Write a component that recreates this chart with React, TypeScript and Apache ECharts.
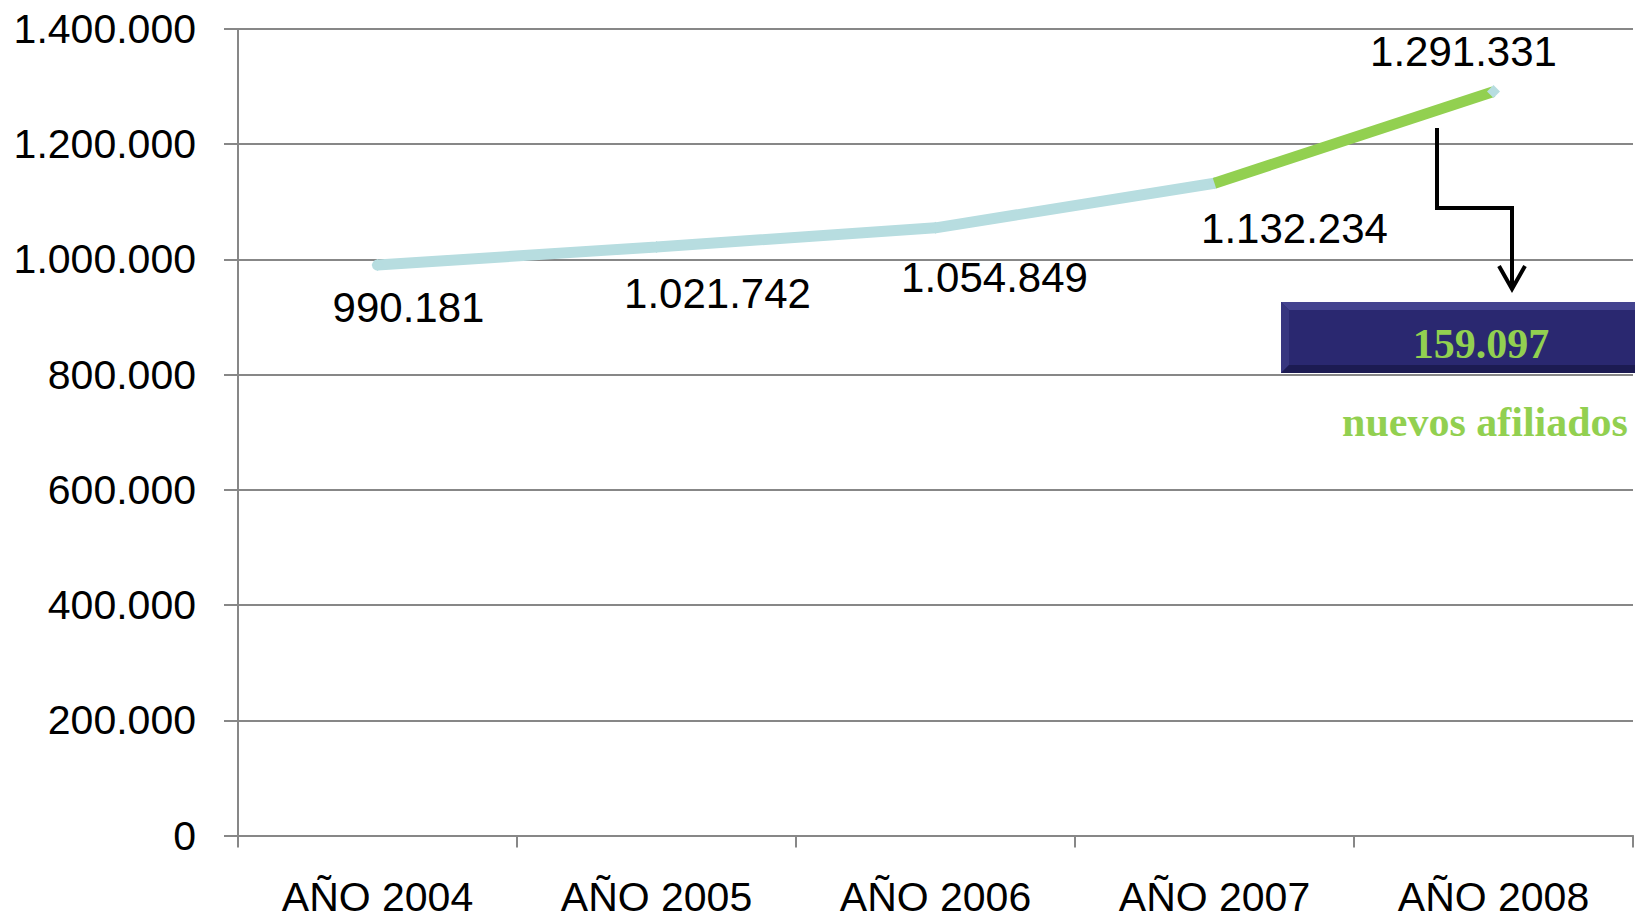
import React, { useEffect, useRef } from "react";
import * as echarts from "echarts";

const categories = ["AÑO 2004", "AÑO 2005", "AÑO 2006", "AÑO 2007", "AÑO 2008"];
const afiliados = [990181, 1021742, 1054849, 1132234, 1291331];
const labelOffsets = [
  [31, 42],
  [61, 47],
  [59, 50],
  [80, 45],
  [-30, -40],
];
const yMin = 0;
const yMax = 1400000;
const yInterval = 200000;
const nuevos = "159.097";
const nuevosTexto = "nuevos afiliados";

const BLUE = "#B7DDE0";
const GREEN = "#92D050";
const GRAY = "#878787";

const fmt = (v: number) =>
  String(Math.round(v)).replace(/\B(?=(\d{3})+(?!\d))/g, ".");

export default function App() {
  const ref = useRef<HTMLDivElement>(null);
  useEffect(() => {
    if (!ref.current) return;
    const chart = echarts.init(ref.current, null, { renderer: "svg" });
    const lastIdx = afiliados.length - 1;
    const blueData = afiliados.map((v, i) =>
      i < lastIdx
        ? {
            value: v,
            label: {
              show: true,
              position: "inside",
              offset: labelOffsets[i],
              formatter: () => fmt(v),
            },
          }
        : "-"
    );
    const greenData = afiliados.map((v, i) => {
      if (i === lastIdx - 1) return { value: v, symbol: "none" };
      if (i === lastIdx)
        return {
          value: v,
          label: {
            show: true,
            position: "inside",
            offset: labelOffsets[i],
            formatter: () => fmt(v),
          },
        };
      return "-";
    });
    const labelStyle = {
      fontFamily: "Liberation Sans",
      fontSize: 42,
      color: "#000",
      align: "center",
      verticalAlign: "middle",
    };
    chart.setOption({
      animation: false,
      backgroundColor: "#fff",
      grid: { left: 238, right: 2, top: 29, bottom: 81, containLabel: false },
      xAxis: {
        type: "category",
        data: categories,
        boundaryGap: true,
        axisLine: { show: true, lineStyle: { color: GRAY, width: 2 } },
        axisTick: { show: true, length: 12, lineStyle: { color: GRAY, width: 2 } },
        axisLabel: {
          margin: 43,
          fontFamily: "Liberation Sans",
          fontSize: 41,
          lineHeight: 36,
          color: "#000",
        },
        splitLine: { show: false },
      },
      yAxis: {
        type: "value",
        min: yMin,
        max: yMax,
        interval: yInterval,
        axisLine: { show: true, lineStyle: { color: GRAY, width: 2 } },
        axisTick: { show: true, length: 14, lineStyle: { color: GRAY, width: 2 } },
        axisLabel: {
          margin: 42,
          fontFamily: "Liberation Sans",
          fontSize: 41,
          color: "#000",
          formatter: (v: number) => fmt(v),
        },
        splitLine: { show: true, lineStyle: { color: GRAY, width: 2 } },
      },
      series: [
        {
          type: "line",
          data: blueData,
          symbol: "diamond",
          symbolSize: 12,
          showSymbol: true,
          lineStyle: { color: BLUE, width: 11, cap: "round" },
          itemStyle: { color: BLUE },
          label: labelStyle,
          z: 3,
        },
        {
          type: "line",
          data: greenData,
          symbol: "diamond",
          symbolSize: 13,
          showSymbol: true,
          lineStyle: { color: GREEN, width: 11 },
          itemStyle: { color: BLUE },
          label: labelStyle,
          z: 4,
        },
      ],
      graphic: [
        {
          type: "polyline",
          shape: { points: [[1437, 128], [1437, 208], [1512, 208], [1512, 286]] },
          style: { stroke: "#000", lineWidth: 4, fill: null },
          z: 10,
        },
        {
          type: "polyline",
          shape: { points: [[1499, 266], [1512, 289], [1525, 266]] },
          style: { stroke: "#000", lineWidth: 4, fill: null },
          z: 10,
        },
        {
          type: "rect",
          shape: { x: 1281, y: 302, width: 360, height: 71 },
          style: { fill: "#2A2870" },
          z: 10,
        },
        {
          type: "polygon",
          shape: { points: [[1281, 302], [1640, 302], [1640, 310], [1289, 310]] },
          style: { fill: "#44438F" },
          z: 11,
        },
        {
          type: "polygon",
          shape: { points: [[1281, 302], [1289, 310], [1289, 365], [1281, 373]] },
          style: { fill: "#37367F" },
          z: 11,
        },
        {
          type: "polygon",
          shape: { points: [[1281, 373], [1289, 365], [1640, 365], [1640, 373]] },
          style: { fill: "#1C1B52" },
          z: 11,
        },
        {
          type: "text",
          x: 1481,
          y: 344,
          style: {
            text: nuevos,
            fill: GREEN,
            font: "bold 42px 'Liberation Serif'",
            align: "center",
            verticalAlign: "middle",
          },
          z: 12,
        },
        {
          type: "text",
          x: 1485,
          y: 422,
          style: {
            text: nuevosTexto,
            fill: GREEN,
            font: "bold 42px 'Liberation Serif'",
            align: "center",
            verticalAlign: "middle",
          },
          z: 12,
        },
      ],
    });
    return () => chart.dispose();
  }, []);
  return (
    <div
      ref={ref}
      style={{ position: "absolute", left: 0, top: 0, width: 1635, height: 917 }}
    />
  );
}
